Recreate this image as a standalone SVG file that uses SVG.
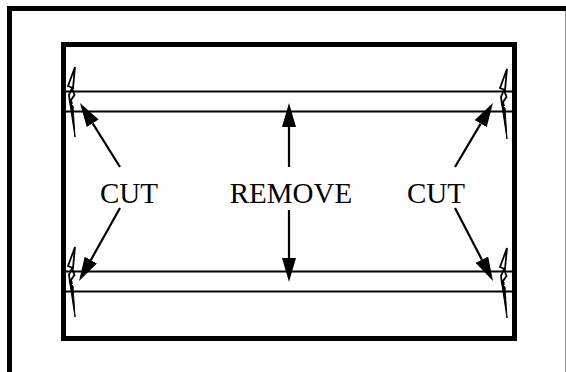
<svg xmlns="http://www.w3.org/2000/svg" xmlns:xlink="http://www.w3.org/1999/xlink" width="566" height="372" viewBox="0 0 566 372">
<style>
.frame{fill:none;stroke:#000;stroke-width:5}
.rule{stroke:#000;stroke-width:2}
.conn{stroke:#000;stroke-width:2.2;fill:none}
.cm{fill:#fff;stroke:#000;stroke-width:1.8;stroke-linejoin:miter}
.cmf{fill:#000;stroke:#000;stroke-width:1}
.lbl{font-family:"Liberation Serif","Times New Roman",serif;font-size:29px;fill:#000;text-anchor:middle}
</style>
<defs>
<marker id="ah" viewBox="0 0 24 14" refX="0" refY="7" markerWidth="24" markerHeight="14" markerUnits="userSpaceOnUse" orient="auto">
<path d="M0,0 L24,7 L0,14 Z" fill="#000"/>
</marker>
<g id="cutmark">
<path class="cm" d="M75,67 L68,86 L73,88 Z"/>
<path class="cm" style="fill:none" d="M72,88 L69,95 L70,103 L73,108 M72,88 L74.5,95 L71,100 L72,104"/>
<path class="cmf" d="M70,104 L75,137 L73,106 Z"/>
</g>
</defs>
<rect width="566" height="372" fill="#fff"/>
<g id="outer-frame">
<path class="frame" d="M9.5,372 V8.5 H566"/>
<line x1="565.5" y1="11" x2="565.5" y2="372" stroke="#999" stroke-width="1"/>
</g>
<g id="panel">
<rect class="frame" x="63.5" y="44.5" width="451" height="294"/>
<line class="rule" x1="66" y1="91.5" x2="512" y2="91.5"/>
<line class="rule" x1="66" y1="111.5" x2="512" y2="111.5"/>
<line class="rule" x1="66" y1="271.5" x2="512" y2="271.5"/>
<line class="rule" x1="66" y1="291.5" x2="512" y2="291.5"/>
</g>
<g id="cut-marks">
<use xlink:href="#cutmark"/>
<use xlink:href="#cutmark" transform="translate(0,180)"/>
<use xlink:href="#cutmark" transform="translate(432,2)"/>
<use xlink:href="#cutmark" transform="translate(432,181)"/>
</g>
<g id="label-cut-left"><text class="lbl" x="129" y="203">CUT</text></g>
<g id="label-remove"><text class="lbl" x="291" y="203">REMOVE</text></g>
<g id="label-cut-right"><text class="lbl" x="436" y="203">CUT</text></g>
<g id="connectors">
<line class="conn" x1="120" y1="167" x2="92.7" y2="123.3" marker-end="url(#ah)"/>
<line class="conn" x1="120" y1="208" x2="90.8" y2="260.1" marker-end="url(#ah)"/>
<line class="conn" x1="455" y1="167" x2="480.7" y2="123.6" marker-end="url(#ah)"/>
<line class="conn" x1="455" y1="208" x2="481.9" y2="259.7" marker-end="url(#ah)"/>
<line class="conn" x1="289" y1="167" x2="289" y2="127" marker-end="url(#ah)"/>
<line class="conn" x1="289" y1="210" x2="289" y2="258" marker-end="url(#ah)"/>
</g>
</svg>
